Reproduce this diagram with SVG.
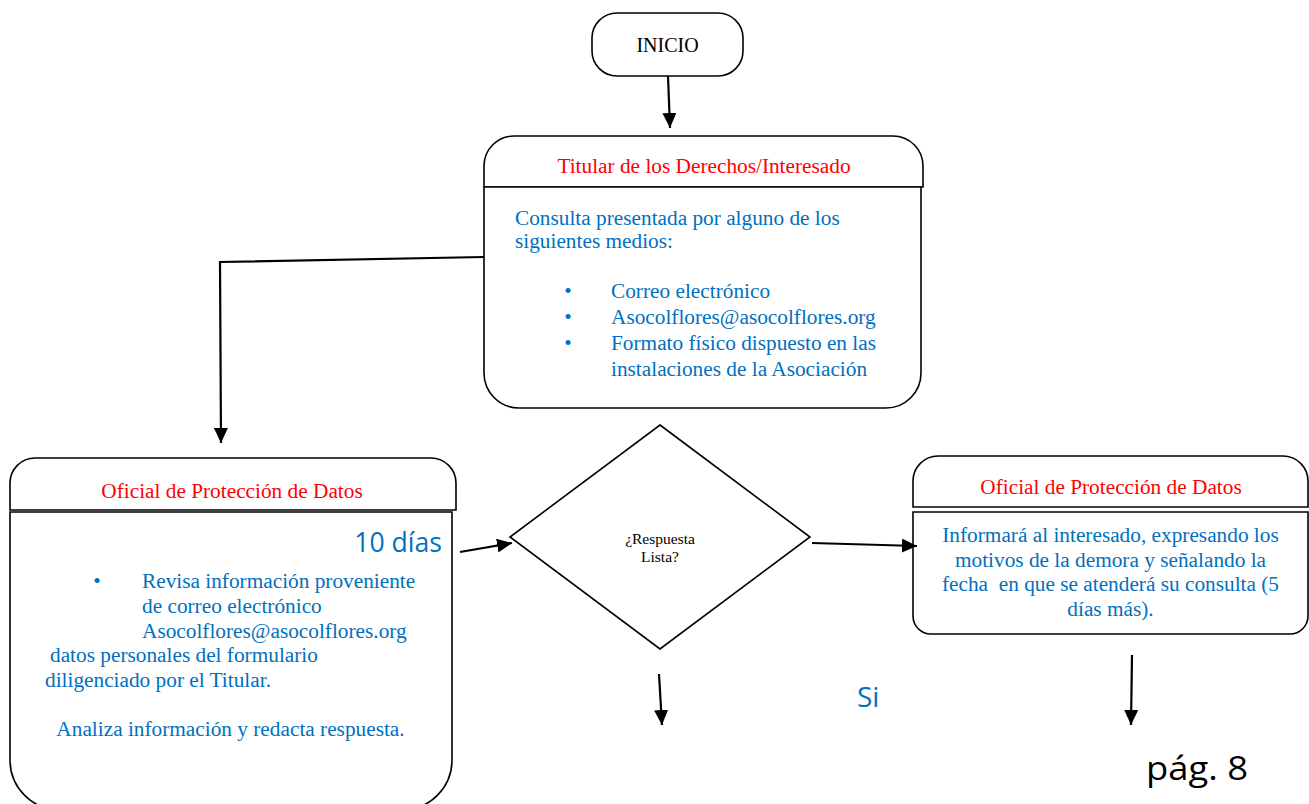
<svg xmlns="http://www.w3.org/2000/svg" width="1309" height="804" viewBox="0 0 1309 804">
<defs>
<style>
.box{fill:#fff;stroke:#000;stroke-width:1.6}
.hdr{font-family:"Liberation Serif","Times New Roman",serif;font-size:21.3px;fill:#ff0000;text-anchor:middle}
.bd{font-family:"Liberation Serif","Times New Roman",serif;font-size:21.3px;fill:#0070c0}
.ctr{text-anchor:middle}
.blk{font-family:"Liberation Serif","Times New Roman",serif;fill:#000;text-anchor:middle}
.sans{font-family:"Open Sans","Liberation Sans",sans-serif}
.con{fill:none;stroke:#000;stroke-width:2.2}
</style>
<marker id="ah" viewBox="0 0 15 14" refX="15" refY="7" markerWidth="15" markerHeight="14" markerUnits="userSpaceOnUse" orient="auto">
<path d="M0,0 L15,7 L0,14 z" fill="#000"/>
</marker>
</defs>
<rect width="1309" height="804" fill="#fff"/>

<g id="inicio">
<rect class="box" x="592" y="13" width="151" height="63" rx="25"/>
<text class="blk" x="667.5" y="52" font-size="20">INICIO</text>
</g>

<g id="titular">
<path class="box" d="M484,187 V166 A30,30 0 0 1 514,136 H893 A30,30 0 0 1 923,166 V187 Z"/>
<path class="box" d="M484,187 H921 V373 A35,35 0 0 1 886,408 H519 A35,35 0 0 1 484,373 Z"/>
<text class="hdr" x="704" y="173">Titular de los Derechos/Interesado</text>
<text class="bd" x="515" y="225">Consulta presentada por alguno de los</text>
<text class="bd" x="515" y="248">siguientes medios:</text>
<text class="bd ctr" x="568" y="298">•</text>
<text class="bd ctr" x="568" y="324">•</text>
<text class="bd ctr" x="568" y="350">•</text>
<text class="bd" x="611" y="298">Correo electrónico</text>
<text class="bd" x="611" y="324">Asocolflores@asocolflores.org</text>
<text class="bd" x="611" y="350">Formato físico dispuesto en las</text>
<text class="bd" x="611" y="376">instalaciones de la Asociación</text>
</g>

<g id="oficial-izq">
<path class="box" d="M10,510 V483 A25,25 0 0 1 35,458 H431 A25,25 0 0 1 456,483 V510 Z"/>
<path class="box" d="M10,512 H452 V760 A50,50 0 0 1 402,810 H60 A50,50 0 0 1 10,760 Z"/>
<text class="hdr" x="232" y="498">Oficial de Protección de Datos</text>
<text class="sans" x="442" y="552" font-size="26.6" fill="#0070c0" text-anchor="end">10 días</text>
<text class="bd ctr" x="97" y="588">•</text>
<text class="bd" x="142" y="588">Revisa información proveniente</text>
<text class="bd" x="142" y="613">de correo electrónico</text>
<text class="bd" x="142" y="638">Asocolflores@asocolflores.org</text>
<text class="bd" x="50" y="662">datos personales del formulario</text>
<text class="bd" x="45" y="687">diligenciado por el Titular.</text>
<text class="bd ctr" x="230.5" y="736">Analiza información y redacta respuesta.</text>
</g>

<g id="decision">
<polygon class="box" points="660,425 810,537 660,649 510,537"/>
<text class="blk" x="660" y="544" font-size="15.5">¿Respuesta</text>
<text class="blk" x="660" y="562" font-size="15.5">Lista?</text>
</g>

<g id="oficial-der">
<path class="box" d="M913,507 V481 A25,25 0 0 1 938,456 H1283 A25,25 0 0 1 1308,481 V507 Z"/>
<path class="box" d="M913,512 H1308 V616 A18,18 0 0 1 1290,634 H931 A18,18 0 0 1 913,616 Z"/>
<text class="hdr" x="1111" y="494">Oficial de Protección de Datos</text>
<text class="bd ctr" x="1110.5" y="542">Informará al interesado, expresando los</text>
<text class="bd ctr" x="1110.5" y="567">motivos de la demora y señalando la</text>
<text class="bd ctr" x="1110.5" y="591" style="white-space:pre">fecha  en que se atenderá su consulta (5</text>
<text class="bd ctr" x="1110.5" y="616">días más).</text>
</g>

<g id="connectors">
<path class="con" d="M668,76 L670,128" marker-end="url(#ah)"/>
<path class="con" d="M484,257 L220,262 L221,443" marker-end="url(#ah)"/>
<path class="con" d="M460,552 L512,543" marker-end="url(#ah)"/>
<path class="con" d="M812,543 L917,546" marker-end="url(#ah)"/>
<path class="con" d="M659,674 L662,725" marker-end="url(#ah)"/>
<path class="con" d="M1132,655 L1131,725" marker-end="url(#ah)"/>
</g>

<g id="labels">
<text class="sans" x="857" y="707" font-size="28" fill="#0070c0">Si</text>
<text class="sans" x="1146" y="780" font-size="32" fill="#000" textLength="102" lengthAdjust="spacingAndGlyphs">pág. 8</text>
</g>
</svg>
